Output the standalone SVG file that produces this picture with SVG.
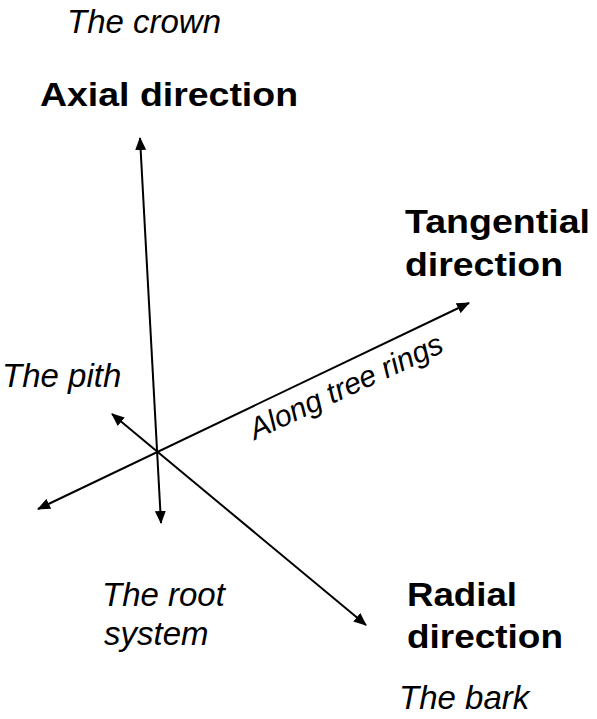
<svg xmlns="http://www.w3.org/2000/svg" width="597" height="719" viewBox="0 0 597 719">
<style>
.it{font-family:"Liberation Sans",Arial,sans-serif;font-style:italic;font-size:33px;fill:#000}
.bd{font-family:"Liberation Sans",Arial,sans-serif;font-weight:bold;font-size:34px;fill:#000}
.ax{stroke:#000;stroke-width:2;fill:none;marker-start:url(#ah);marker-end:url(#ah)}
</style>
<defs>
<marker id="ah" markerUnits="userSpaceOnUse" markerWidth="13" markerHeight="11" viewBox="0 0 13 11" refX="12" refY="5.5" orient="auto-start-reverse">
<path d="M0,0 L13,5.5 L0,11 z" fill="#000"/>
</marker>
</defs>
<rect width="597" height="719" fill="#fff"/>
<g id="connectors">
<line class="ax" x1="161" y1="523" x2="140" y2="138"/>
<line class="ax" x1="38" y1="509" x2="469" y2="303"/>
<line class="ax" x1="112" y1="414" x2="366" y2="625"/>
</g>
<g id="axial">
<text class="it" x="67" y="33">The crown</text>
<text class="bd" x="40" y="106" textLength="258" lengthAdjust="spacingAndGlyphs">Axial direction</text>
<text class="it" x="102" y="606">The root</text>
<text class="it" x="104" y="645">system</text>
</g>
<g id="tangential">
<text class="bd" x="405" y="233" textLength="185" lengthAdjust="spacingAndGlyphs">Tangential</text>
<text class="bd" x="405" y="276" textLength="158" lengthAdjust="spacingAndGlyphs">direction</text>
<text class="it" style="font-size:30px" transform="translate(255,440) rotate(-25)">Along tree rings</text>
</g>
<g id="radial">
<text class="it" x="2" y="387">The pith</text>
<text class="bd" x="407" y="606" textLength="110" lengthAdjust="spacingAndGlyphs">Radial</text>
<text class="bd" x="407" y="648" textLength="156" lengthAdjust="spacingAndGlyphs">direction</text>
<text class="it" x="399" y="709">The bark</text>
</g>
</svg>
